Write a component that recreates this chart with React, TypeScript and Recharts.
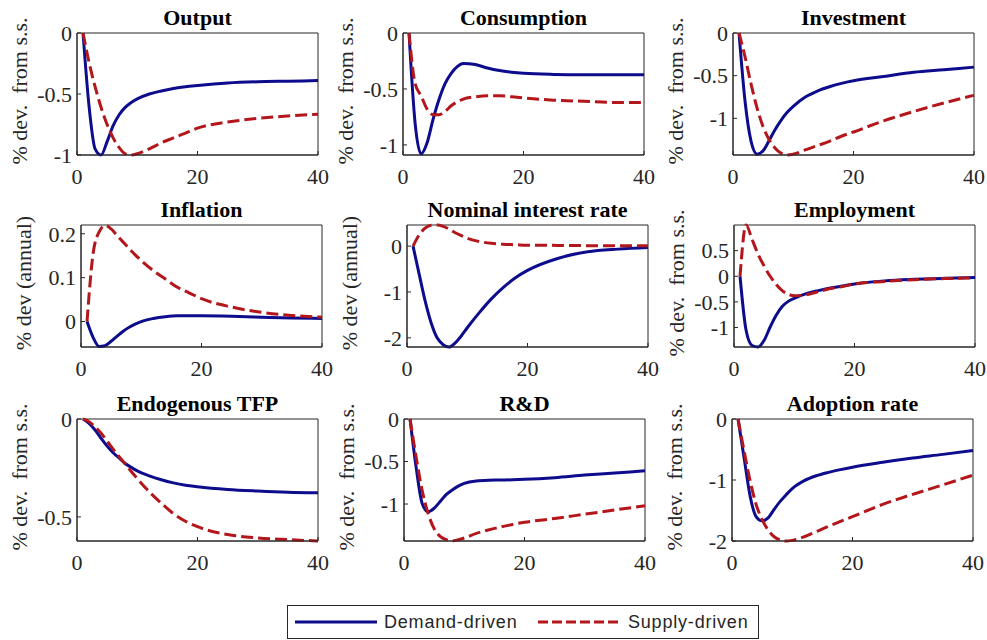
import React from "react";
import { LineChart, Line, XAxis, YAxis, ReferenceArea } from "recharts";

// quarters after the shock
const periods = [1, 2, 3, 4, 5, 6, 7, 8, 9, 10, 12, 14, 16, 18, 20, 25, 30, 35, 40];
const xTicks = [0, 20, 40];

const outputDemand = [0, -0.6, -0.95, -1.0, -0.89, -0.76, -0.67, -0.61, -0.57, -0.54, -0.5, -0.475, -0.455, -0.44, -0.43, -0.41, -0.4, -0.395, -0.39];
const outputSupply = [0, -0.24, -0.44, -0.61, -0.75, -0.86, -0.94, -0.99, -1.0, -0.99, -0.95, -0.9, -0.86, -0.82, -0.78, -0.73, -0.7, -0.68, -0.665];

const consumptionDemand = [0, -0.8, -1.08, -0.98, -0.77, -0.59, -0.45, -0.36, -0.3, -0.272, -0.282, -0.312, -0.335, -0.35, -0.36, -0.37, -0.373, -0.373, -0.373];
const consumptionSupply = [0, -0.45, -0.56, -0.68, -0.73, -0.73, -0.7, -0.65, -0.615, -0.59, -0.57, -0.56, -0.56, -0.57, -0.58, -0.6, -0.61, -0.62, -0.62];

const investmentDemand = [0, -0.8, -1.27, -1.42, -1.38, -1.26, -1.13, -1.02, -0.93, -0.86, -0.75, -0.68, -0.63, -0.59, -0.56, -0.51, -0.46, -0.43, -0.4];
const investmentSupply = [0, -0.28, -0.6, -0.88, -1.1, -1.25, -1.35, -1.41, -1.43, -1.42, -1.37, -1.32, -1.27, -1.21, -1.16, -1.03, -0.92, -0.82, -0.73];

const inflationDemand = [0, -0.036, -0.057, -0.055, -0.045, -0.033, -0.022, -0.013, -0.006, 0, 0.007, 0.011, 0.013, 0.013, 0.013, 0.012, 0.01, 0.008, 0.007];
const inflationSupply = [0, 0.154, 0.204, 0.219, 0.211, 0.196, 0.181, 0.166, 0.152, 0.139, 0.116, 0.097, 0.078, 0.065, 0.052, 0.033, 0.021, 0.014, 0.01];

const rateDemand = [0, -0.6, -1.19, -1.67, -2.0, -2.15, -2.2, -2.11, -1.96, -1.78, -1.45, -1.15, -0.9, -0.69, -0.53, -0.27, -0.125, -0.066, -0.03];
const rateSupply = [0, 0.24, 0.39, 0.455, 0.46, 0.43, 0.37, 0.29, 0.23, 0.17, 0.1, 0.06, 0.04, 0.03, 0.02, 0.015, 0.01, 0.007, 0.005];

const employmentDemand = [0, -1.05, -1.35, -1.38, -1.25, -0.99, -0.76, -0.59, -0.49, -0.43, -0.34, -0.28, -0.23, -0.19, -0.15, -0.09, -0.06, -0.04, -0.026];
const employmentSupply = [0, 1.0, 0.72, 0.43, 0.2, 0, -0.16, -0.28, -0.35, -0.38, -0.36, -0.3, -0.24, -0.2, -0.15, -0.1, -0.066, -0.046, -0.033];

const tfpDemand = [0, -0.022, -0.056, -0.099, -0.138, -0.172, -0.2, -0.227, -0.247, -0.265, -0.29, -0.31, -0.326, -0.338, -0.346, -0.36, -0.368, -0.374, -0.377];
const tfpSupply = [0, -0.014, -0.04, -0.073, -0.113, -0.154, -0.193, -0.23, -0.268, -0.304, -0.372, -0.43, -0.483, -0.522, -0.55, -0.59, -0.607, -0.616, -0.623];

const rdDemand = [0, -0.56, -0.99, -1.09, -1.05, -0.97, -0.89, -0.835, -0.79, -0.757, -0.728, -0.72, -0.718, -0.715, -0.71, -0.69, -0.66, -0.635, -0.61];
const rdSupply = [0, -0.44, -0.835, -1.11, -1.29, -1.38, -1.42, -1.435, -1.42, -1.4, -1.345, -1.305, -1.27, -1.24, -1.215, -1.17, -1.12, -1.07, -1.02];

const adoptionDemand = [0, -0.63, -1.26, -1.6, -1.67, -1.62, -1.48, -1.35, -1.24, -1.14, -1.01, -0.93, -0.875, -0.83, -0.79, -0.71, -0.64, -0.58, -0.515];
const adoptionSupply = [0, -0.52, -1.01, -1.4, -1.65, -1.82, -1.93, -1.98, -2.0, -1.99, -1.93, -1.845, -1.76, -1.68, -1.6, -1.4, -1.235, -1.08, -0.92];

const DEV = "% dev.  from s.s.";
const ANNUAL = "% dev (annual)";

const panels = [
  { title: "Output", ylabel: DEV, demand: outputDemand, supply: outputSupply, domain: [-1.0, 0], ticks: [-1, -0.5, 0] },
  { title: "Consumption", ylabel: DEV, demand: consumptionDemand, supply: consumptionSupply, domain: [-1.09, 0], ticks: [-1, -0.5, 0] },
  { title: "Investment", ylabel: DEV, demand: investmentDemand, supply: investmentSupply, domain: [-1.43, 0], ticks: [-1, -0.5, 0] },
  { title: "Inflation", ylabel: ANNUAL, demand: inflationDemand, supply: inflationSupply, domain: [-0.058, 0.22], ticks: [0, 0.1, 0.2] },
  { title: "Nominal interest rate", ylabel: ANNUAL, demand: rateDemand, supply: rateSupply, domain: [-2.2, 0.46], ticks: [-2, -1, 0] },
  { title: "Employment", ylabel: DEV, demand: employmentDemand, supply: employmentSupply, domain: [-1.38, 1.0], ticks: [-1, -0.5, 0, 0.5] },
  { title: "Endogenous TFP", ylabel: DEV, demand: tfpDemand, supply: tfpSupply, domain: [-0.623, 0], ticks: [-0.5, 0] },
  { title: "R&D", ylabel: DEV, demand: rdDemand, supply: rdSupply, domain: [-1.435, 0], ticks: [-1, -0.5, 0] },
  { title: "Adoption rate", ylabel: DEV, demand: adoptionDemand, supply: adoptionSupply, domain: [-2.0, 0], ticks: [-2, -1, 0] },
];

// top-left corner of each plot box
const boxes = [
  { left: 77, top: 33 }, { left: 403, top: 33 }, { left: 733, top: 33 },
  { left: 81, top: 225 }, { left: 407, top: 225 }, { left: 734, top: 225 },
  { left: 77, top: 419 }, { left: 404, top: 419 }, { left: 732, top: 419 },
];

const BOX_W = 241;
const BOX_H = 122;
const Y_AXIS_W = 60;
const PAD_TOP = 18;
const PAD_RIGHT = 18;
const X_AXIS_H = 38;

const BLUE = "#0c0c8c";
const RED = "#b3161b";
const AXIS = "#262626";
const SERIF = "Liberation Serif, Times New Roman, serif";
const SANS = "Liberation Sans, Arial, sans-serif";

const tickStyle = { fill: AXIS, fontSize: 22, fontFamily: SERIF, style: { fontFamily: SERIF } };

function Panel({ panel, box }: { panel: any; box: { left: number; top: number } }) {
  const data = periods.map((t, i) => ({ t, demand: panel.demand[i], supply: panel.supply[i] }));
  return (
    <div style={{ position: "absolute", left: box.left - Y_AXIS_W, top: box.top - PAD_TOP }}>
      <LineChart
        width={Y_AXIS_W + BOX_W + PAD_RIGHT}
        height={PAD_TOP + BOX_H + X_AXIS_H}
        data={data}
        margin={{ top: PAD_TOP, right: PAD_RIGHT, bottom: 0, left: 0 }}
      >
        <XAxis
          type="number"
          dataKey="t"
          domain={[0, 40]}
          ticks={xTicks}
          interval={0}
          height={X_AXIS_H}
          tick={tickStyle}
          tickSize={-4}
          tickMargin={17}
          stroke={AXIS}
        />
        <YAxis
          type="number"
          domain={panel.domain}
          ticks={panel.ticks}
          interval={0}
          width={Y_AXIS_W}
          tick={tickStyle}
          tickSize={-4}
          tickMargin={9}
          stroke={AXIS}
        />
        <ReferenceArea x1={0} x2={40} y1={panel.domain[0]} y2={panel.domain[1]} fill="none" stroke={AXIS} strokeWidth={1} />
        <Line type="monotone" dataKey="demand" stroke={BLUE} strokeWidth={3} dot={false} isAnimationActive={false} />
        <Line type="monotone" dataKey="supply" stroke={RED} strokeWidth={3} strokeDasharray="12 5" dot={false} isAnimationActive={false} />
      </LineChart>
    </div>
  );
}

export default function App() {
  return (
    <div style={{ position: "absolute", left: 0, top: 0, width: 987, height: 640, background: "#fff", overflow: "hidden", fontFamily: SERIF }}>
      {panels.map((p, i) => (
        <Panel key={p.title} panel={p} box={boxes[i]} />
      ))}
      <svg width={987} height={640} style={{ position: "absolute", left: 0, top: 0, pointerEvents: "none" }}>
        {panels.map((p, i) => {
          const b = boxes[i];
          const cx = b.left - 58;
          const cy = b.top + BOX_H / 2 - 3;
          return (
            <g key={p.title}>
              <text x={b.left + BOX_W / 2} y={b.top - 8} textAnchor="middle" fontWeight="bold" fontSize={22} fill="#000" style={{ fontFamily: SERIF }}>
                {p.title}
              </text>
              <text
                x={cx}
                y={cy}
                transform={`rotate(-90 ${cx} ${cy})`}
                textAnchor="middle"
                dominantBaseline="central"
                fontSize={22}
                fill={AXIS}
                style={{ fontFamily: SERIF, whiteSpace: "pre" }}
              >
                {p.ylabel}
              </text>
            </g>
          );
        })}
        <rect x={287.5} y={605.5} width={471} height={33} fill="#fff" stroke={AXIS} strokeWidth={1} />
        <line x1={295} y1={622} x2={377} y2={622} stroke={BLUE} strokeWidth={3} />
        <text x={384} y={628} fontSize={18} fill={AXIS} letterSpacing={0.8} style={{ fontFamily: SANS }}>
          Demand-driven
        </text>
        <line x1={538} y1={622} x2={620} y2={622} stroke={RED} strokeWidth={3} strokeDasharray="10 4" />
        <text x={628} y={628} fontSize={18} fill={AXIS} letterSpacing={0.8} style={{ fontFamily: SANS }}>
          Supply-driven
        </text>
      </svg>
    </div>
  );
}
